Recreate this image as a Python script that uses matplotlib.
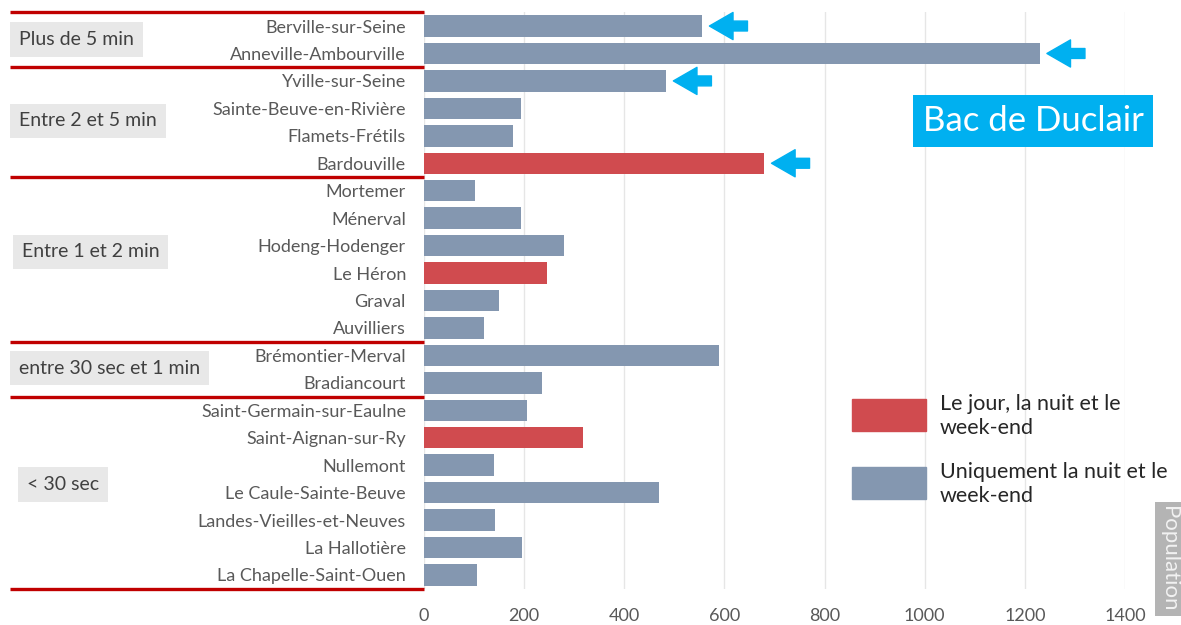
import numpy as np
import matplotlib
matplotlib.use('Agg')
import matplotlib.pyplot as plt
from matplotlib.patches import Rectangle
from matplotlib.transforms import blended_transform_factory

plt.rcParams['font.family'] = ['Lato', 'DejaVu Sans']

towns = ['Berville-sur-Seine', 'Anneville-Ambourville', 'Yville-sur-Seine',
         'Sainte-Beuve-en-Rivière', 'Flamets-Frétils', 'Bardouville',
         'Mortemer', 'Ménerval', 'Hodeng-Hodenger', 'Le Héron', 'Graval',
         'Auvilliers', 'Brémontier-Merval', 'Bradiancourt',
         'Saint-Germain-sur-Eaulne', 'Saint-Aignan-sur-Ry', 'Nullemont',
         'Le Caule-Sainte-Beuve', 'Landes-Vieilles-et-Neuves', 'La Hallotière',
         'La Chapelle-Saint-Ouen']
population = [556, 1230, 484, 194, 178, 680, 102, 194, 280, 246, 150, 120,
              590, 236, 206, 318, 140, 470, 142, 196, 106]
# True = ferry runs day, night and week-end
all_day = [False, False, False, False, False, True, False, False, False, True,
           False, False, False, False, False, True, False, False, False, False,
           False]
flagged = ['Berville-sur-Seine', 'Anneville-Ambourville', 'Yville-sur-Seine',
           'Bardouville']

groups = ['Plus de 5 min', 'Entre 2 et 5 min', 'Entre 1 et 2 min',
          'entre 30 sec et 1 min', '< 30 sec']
group_sizes = [2, 4, 6, 2, 7]

# label box placement (pixels from left, row position)
group_label_x = [19, 19, 22, 19, 27]
group_label_y = [0.5, 3.46, 8.23, 12.46, 16.7]

RED = '#d04b4f'
BLUE = '#8497b0'
LINE = '#c00000'
CYAN = '#00b0f0'

fig = plt.figure(figsize=(11.81, 6.25), dpi=100)
ax = fig.add_axes([424 / 1181, 1 - 588.7 / 625, (1125 - 424) / 1181, (588.7 - 12.3) / 625])

y = np.arange(len(towns))
colors = [RED if d else BLUE for d in all_day]
ax.barh(y, population, height=0.78, color=colors, zorder=2)

ax.set_xlim(0, 1400)
ax.set_ylim(len(towns) - 0.5, -0.5)
ax.set_xticks(np.arange(0, 1401, 200))
ax.set_yticks(y)
ax.set_yticklabels(towns)
ax.tick_params(axis='y', length=0, pad=13, labelsize=13, labelcolor='#595959')
ax.tick_params(axis='x', length=0, pad=14, labelsize=13, labelcolor='#595959')
ax.grid(axis='x', color='#e6e6e6', linewidth=1, zorder=0)
for s in ax.spines.values():
    s.set_visible(False)

# arrows next to highlighted towns
for t in flagged:
    i = towns.index(t)
    v = population[i]
    ax.annotate('', xy=(v + 14, i), xytext=(v + 90, i),
                arrowprops=dict(arrowstyle='simple,head_length=1.0,head_width=1.15,tail_width=0.42',
                                color=CYAN, mutation_scale=17, shrinkA=0, shrinkB=0))

# group separators and labels
tr = blended_transform_factory(fig.transFigure, ax.transData)
bounds = np.concatenate([[0], np.cumsum(group_sizes)]) - 0.5
for b in bounds:
    ax.plot([10 / 1181, 424 / 1181], [b, b], color=LINE, lw=2.4,
            transform=tr, clip_on=False, solid_capstyle='butt')
for g, gx, gy in zip(groups, group_label_x, group_label_y):
    ax.text(gx / 1181, gy, g, transform=tr, fontsize=14, color='#404040',
            va='center', ha='left',
            bbox=dict(boxstyle='square,pad=0.45', fc='#e8e8e8', ec='none'))

# legend
for col, label, cy in [(RED, 'Le jour, la nuit et le\nweek-end', 415),
                       (BLUE, 'Uniquement la nuit et le\nweek-end', 483)]:
    fig.add_artist(Rectangle((852 / 1181, 1 - (cy + 16) / 625), 74 / 1181, 32 / 625,
                             transform=fig.transFigure, color=col))
    fig.text(940 / 1181, 1 - (cy + 1) / 625, label, fontsize=15.5, color='#262626',
             va='center', ha='left', linespacing=1.2)

fig.text(1033 / 1181, 1 - 121 / 625, 'Bac de Duclair', fontsize=25, color='white',
         ha='center', va='center',
         bbox=dict(boxstyle='square,pad=0.28', fc=CYAN, ec='none'))

fig.text(1169 / 1181, 1 - 506 / 625, 'Population', fontsize=16, color='#f2f2f2',
         rotation=-90, ha='center', va='top',
         bbox=dict(boxstyle='square,pad=0.2', fc='#b4b4b4', ec='none'))

fig.savefig('out.png', dpi=100)
